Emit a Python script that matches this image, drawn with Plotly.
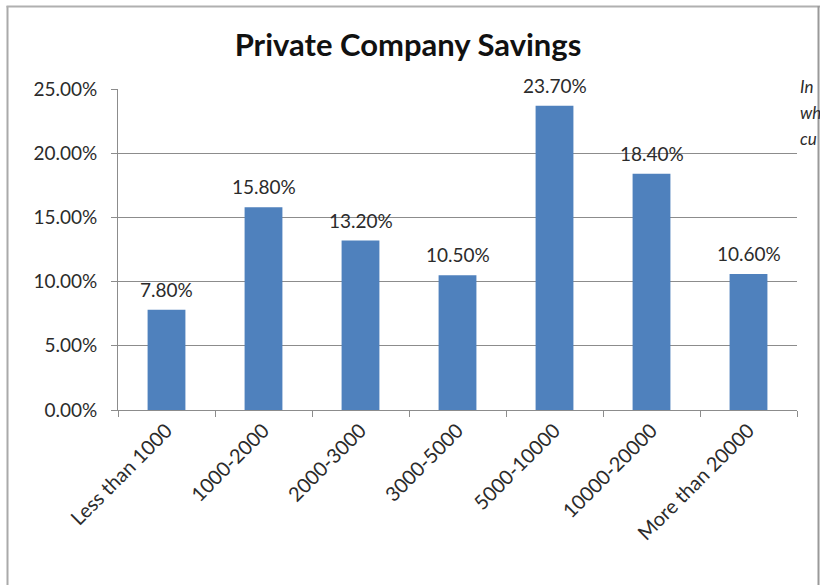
import plotly.graph_objects as go

categories = ["Less than 1000", "1000-2000", "2000-3000", "3000-5000",
              "5000-10000", "10000-20000", "More than 20000"]
savings_share = [7.80, 15.80, 13.20, 10.50, 23.70, 18.40, 10.60]
y_ticks = [0, 5, 10, 15, 20, 25]
side_note = ["In", "wh", "cu"]

FONT = "Lato, 'Open Sans', sans-serif"
BAR = "#4F81BD"
GRID = "#8C8C8C"
INK = "#2B2B2B"

# plot-area geometry in pixels, used to place the frame in paper units
L, R, T, B = 118, 23, 89, 175
PW, PH = 820 - L - R, 585 - T - B


def px_x(x):
    return (x - L) / PW


def px_y(y):
    return (585 - B - y) / PH


fig = go.Figure()
fig.add_trace(go.Bar(
    x=categories, y=savings_share,
    marker=dict(color=BAR, line=dict(width=0)),
    width=0.39,
    hoverinfo="skip",
))

# value labels above each bar
for cat, v in zip(categories, savings_share):
    fig.add_annotation(x=cat, y=v, text=f"{v:.2f}%", showarrow=False,
                       yanchor="bottom", yshift=7,
                       font=dict(family=FONT, size=19, color=INK))

# side note at the right edge
for i, word in enumerate(side_note):
    fig.add_annotation(xref="paper", yref="paper", x=px_x(798), y=px_y(86 + i * 26),
                       xanchor="left", yanchor="middle", text=f"<i>{word}</i>",
                       showarrow=False, font=dict(family=FONT, size=17, color=INK))

fig.update_layout(
    width=820, height=585,
    margin=dict(l=L, r=R, t=T, b=B),
    paper_bgcolor="white", plot_bgcolor="white",
    showlegend=False,
    title=dict(text="<b>Private Company Savings</b>", x=408 / 820,
               xanchor="center", y=1 - 45 / 585, yanchor="middle",
               font=dict(family=FONT, size=31, color="#111111")),
    shapes=[
        # chart frame
        dict(type="line", xref="paper", yref="paper", x0=px_x(7.5), x1=px_x(7.5),
             y0=px_y(590), y1=px_y(6), line=dict(color="#AAAAAA", width=2)),
        dict(type="line", xref="paper", yref="paper", x0=px_x(6.5), x1=px_x(820),
             y0=px_y(6.5), y1=px_y(6.5), line=dict(color="#B0B0B0", width=2)),
        dict(type="line", xref="paper", yref="paper", x0=px_x(818.5), x1=px_x(818.5),
             y0=px_y(590), y1=px_y(6), line=dict(color="#9A9A9A", width=2)),
    ],
)

fig.update_xaxes(
    type="category", showgrid=False,
    showline=True, linecolor=GRID, linewidth=1,
    ticks="outside", tickson="boundaries", ticklen=6, tickcolor=GRID,
    tickangle=-45, tickfont=dict(family=FONT, size=20, color=INK),
)
fig.update_yaxes(
    range=[0, 25], tickvals=y_ticks,
    ticktext=[f"{t:.2f}%" for t in y_ticks],
    showgrid=True, gridcolor=GRID, gridwidth=1,
    showline=True, linecolor=GRID, linewidth=1,
    ticks="outside", ticklen=6, tickcolor=GRID,
    ticklabelstandoff=10,
    tickfont=dict(family=FONT, size=19, color=INK),
    zeroline=False,
)

fig.write_html("out.html")
